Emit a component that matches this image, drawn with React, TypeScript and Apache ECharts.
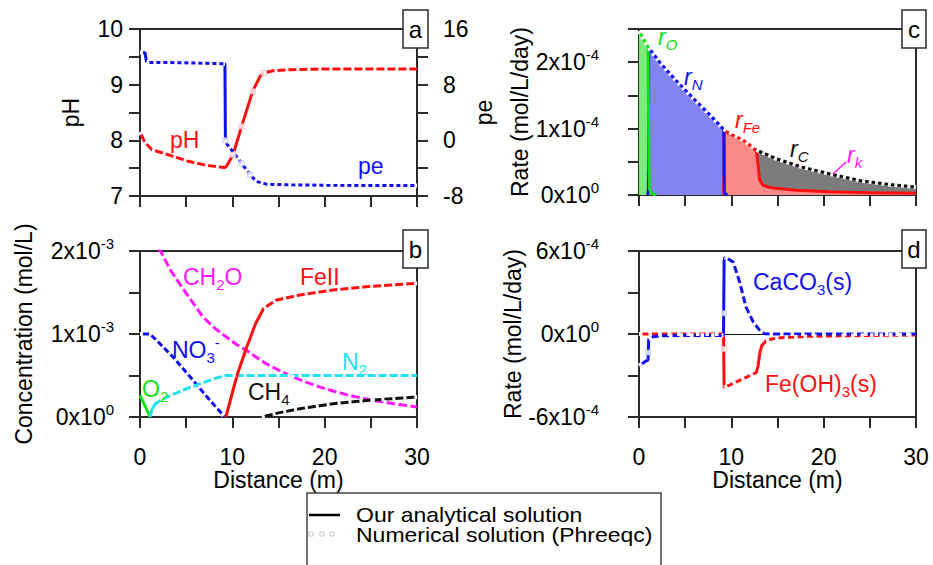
import React, { useEffect, useRef } from 'react';
import * as echarts from 'echarts';

const FONT = '"Liberation Sans", Arial, Helvetica, sans-serif';
const RED = '#ff1010';
const BLUE = '#1010ee';
const GREEN = '#18e018';
const MAGENTA = '#ff18ff';
const CYAN = '#22e2f2';
const BLACK = '#111111';
const AXIS = '#2a2a2a';
const NUM = '#fcf4fb';

// x ticks (m)
const X_TICK_STEP = 5;

// ---------- panel a : pH (left) and pe (right)
const PH_X = [0, 0.5, 1.3, 2.9, 5.1, 7.2, 9.1, 9.3, 9.6, 10.1, 11.0, 12.2, 13.0, 13.4, 14.4, 16, 20, 25, 30];
const PH_Y = [8.15, 7.97, 7.83, 7.75, 7.63, 7.55, 7.51, 7.52, 7.6, 7.75, 8.25, 8.88, 9.15, 9.21, 9.25, 9.27, 9.28, 9.28, 9.28];
const PE_X = [0, 0.55, 0.7, 1.0, 3, 6, 9.1, 9.2, 9.25, 9.4, 10.1, 11.0, 11.9, 12.6, 13.7, 16, 20, 25, 30];
const PE_Y = [12.6, 12.6, 11.3, 11.2, 11.2, 11.1, 11.0, 11.0, 0.0, -0.5, -1.7, -3.3, -4.9, -5.9, -6.3, -6.4, -6.45, -6.5, -6.5];

// ---------- panel b : concentrations (x10^-3 mol/L)
const CH2O_X = [0, 1, 2.27, 3.3, 4.5, 5.7, 6.86, 8.1, 9.4, 10.5, 11.55, 12.6, 13.7, 15.1, 16.6, 18, 19.5, 21, 22.7, 25.3, 27.5, 30];
const CH2O_Y = [2.45, 2.2, 1.99, 1.77, 1.57, 1.38, 1.2, 1.07, 0.96, 0.87, 0.8, 0.72, 0.64, 0.56, 0.48, 0.42, 0.36, 0.31, 0.26, 0.2, 0.16, 0.12];
const NO3_X = [0, 1.08, 2, 3.6, 5.0, 6.0, 7.2, 8.3, 9.2];
const NO3_Y = [1.0, 1.0, 0.9, 0.72, 0.54, 0.41, 0.25, 0.11, 0];
const O2_X = [0, 0.3, 0.6, 0.85, 1.08];
const O2_Y = [0.26, 0.19, 0.12, 0.06, 0];
const N2_X = [1.08, 1.3, 1.6, 2.2, 3.5, 5.0, 6.5, 8.0, 9.3, 12, 16, 20, 25, 30];
const N2_Y = [0, 0.09, 0.15, 0.2, 0.27, 0.34, 0.4, 0.46, 0.5, 0.5, 0.5, 0.5, 0.5, 0.5];
const FE2_X = [9.3, 10.5, 11.55, 12.5, 13.4, 14.8, 17.3, 20.9, 24.5, 30];
const FE2_Y = [0, 0.5, 0.84, 1.12, 1.31, 1.41, 1.47, 1.53, 1.57, 1.61];
const CH4_X = [13.2, 15, 17.3, 20.9, 24.5, 30];
const CH4_Y = [0, 0.05, 0.1, 0.16, 0.2, 0.24];

// ---------- panel c : rates (x10^-4 mol/L/day)
const RK_X = [0, 0.98, 2.25, 4.05, 5.86, 7.66, 9.1, 11.26, 12.7, 14.8, 17.7, 20.6, 23.9, 27.1, 30];
const RK_Y = [2.47, 2.23, 2.0, 1.72, 1.46, 1.21, 1.0, 0.83, 0.68, 0.55, 0.42, 0.32, 0.22, 0.16, 0.12];
const RC_X = [12.6, 12.7, 14.8, 17.7, 20.6, 23.9, 27.1, 30];
const RC_Y = [0.69, 0.68, 0.55, 0.42, 0.32, 0.22, 0.16, 0.12];
const RO_X = [0, 0.5, 0.98, 1.02, 1.08, 1.15, 1.4, 1.9];
const RO_Y = [2.47, 2.35, 2.23, 1.4, 0.4, 0.08, 0.02, 0];
const RN_X = [0.95, 1.02, 1.05, 2.25, 4.05, 5.86, 7.66, 9.1, 9.18, 9.24, 9.4, 9.6];
const RN_Y = [0, 0.1, 2.22, 2.0, 1.72, 1.46, 1.21, 1.0, 0.98, 0.05, 0.01, 0];
const RFE_X = [9.18, 9.24, 10, 11.26, 12.3, 12.7, 12.9, 13.06, 13.4, 14, 14.8, 17, 20.6, 25, 30];
const RFE_Y = [0, 0.97, 0.91, 0.83, 0.72, 0.66, 0.45, 0.23, 0.15, 0.12, 0.1, 0.07, 0.05, 0.035, 0.026];

// ---------- panel d : mineral rates (x10^-4 mol/L/day)
const CAC_X = [0, 0.8, 0.98, 1.05, 1.5, 2.4, 5, 9.15, 9.22, 9.3, 9.6, 10.2, 10.9, 11.6, 12.4, 13.1, 13.6, 15, 20, 30];
const CAC_Y = [-2.3, -1.94, -1.9, -0.36, -0.2, -0.12, -0.1, -0.1, 5.3, 5.55, 5.45, 5.2, 3.75, 1.93, 0.84, 0.24, 0.02, 0, 0, 0];
const FEOH_X = [0, 5, 9.15, 9.22, 12.7, 12.9, 13.1, 13.3, 13.75, 14.8, 18.5, 22, 30];
const FEOH_Y = [0, 0, 0, -3.88, -2.79, -2.3, -1.3, -0.85, -0.49, -0.29, -0.17, -0.12, -0.07];

// numerical (Phreeqc) points visible on steep parts
const NUM_A_PH = [[10.1, 7.74], [11.0, 8.25], [12.2, 8.88], [13.4, 9.21]];
const NUM_A_PE = [[9.24, 0.0], [11.0, -3.3], [11.9, -4.9]];
const NUM_D_CAC = [[0.98, -1.34], [9.22, 1.5]];
const NUM_D_FEOH = [[9.22, -1.09]];

const pairs = (xs: number[], ys: number[]) => xs.map((x, i) => [x, ys[i]]);
const segs = (xs: number[], ys: number[], ranges: number[][]) => {
  const out: any[] = [];
  ranges.forEach((r, k) => {
    if (k > 0) out.push([xs[r[0]], '-']);
    for (let i = r[0]; i <= r[1]; i++) out.push([xs[i], ys[i]]);
  });
  return out;
};

const lineS = (xi: number, yi: number, data: any[], color: string, extra: any = {}) => ({
  type: 'line', xAxisIndex: xi, yAxisIndex: yi, data, showSymbol: false, symbol: 'none',
  silent: true, lineStyle: { color, width: 3 }, itemStyle: { color }, z: 3, ...extra,
});
const numS = (xi: number, yi: number, data: any[], dash: number[]) => ({
  type: 'line', xAxisIndex: xi, yAxisIndex: yi, data, showSymbol: false, symbol: 'none',
  silent: true, lineStyle: { color: NUM, width: 4.2, type: dash }, z: 4,
});
const dotS = (xi: number, yi: number, data: any[], border: string) => ({
  type: 'scatter', xAxisIndex: xi, yAxisIndex: yi, data, symbol: 'rect', symbolSize: 5,
  silent: true, itemStyle: { color: '#ffffff', borderColor: border, borderWidth: 1 }, z: 5,
});

const rich = (c: string) => ({
  m: { fontSize: 23, fontFamily: FONT, fill: c, color: c, lineHeight: 30 },
  i: { fontSize: 23, fontFamily: FONT, fontStyle: 'italic', fill: c, color: c, lineHeight: 30 },
  b: { fontSize: 15, fontFamily: FONT, fill: c, color: c, lineHeight: 12, verticalAlign: 'bottom' },
  ib: { fontSize: 15, fontFamily: FONT, fontStyle: 'italic', fill: c, color: c, lineHeight: 12, verticalAlign: 'bottom' },
  p: { fontSize: 15, fontFamily: FONT, fill: c, color: c, lineHeight: 10, verticalAlign: 'top' },
});

const label = (x: number, y: number, text: string, color: string) => ({
  type: 'text', x, y, z: 100,
  style: {
    text, rich: rich(color), fill: color, fontSize: 23, fontFamily: FONT,
    textAlign: 'left', align: 'left', textVerticalAlign: 'middle', verticalAlign: 'middle',
  },
});

const box = (x: number, y: number, w: number, h: number, t: string) => [
  { type: 'rect', z: 100, shape: { x, y, width: w, height: h }, style: { fill: '#ffffff', stroke: AXIS, lineWidth: 1.5 } },
  {
    type: 'text', z: 101, x: x + w / 2, y: y + h / 2,
    style: { text: t, fill: '#000', fontSize: 24, fontFamily: FONT, textAlign: 'center', align: 'center', textVerticalAlign: 'middle', verticalAlign: 'middle' },
  },
];

const legendText = (x: number, y: number, text: string) => ({
  type: 'text', z: 101, x, y, scaleX: 1.15,
  style: { text, fill: '#000', fontSize: 20, fontFamily: FONT, textAlign: 'left', align: 'left', textVerticalAlign: 'middle', verticalAlign: 'middle' },
});

const isInt = (v: number) => Math.abs(v - Math.round(v)) < 1e-9;
const sciFmt = (exp: number) => (v: number) => {
  if (!isInt(v)) return '';
  const k = Math.round(v);
  return k === 0 ? '{m|0x10}{s|0}' : `{m|${k}x10}{s|${exp}}`;
};
const sciRich = {
  m: { fontSize: 23, fontFamily: FONT, color: '#000', lineHeight: 30 },
  s: { fontSize: 15, fontFamily: FONT, color: '#000', lineHeight: 10, verticalAlign: 'top' },
};

const nameStyle = { fontSize: 23, fontFamily: FONT, color: '#000' };

const xAxisCfg = (gi: number, showLabels: boolean) => ({
  type: 'value', gridIndex: gi, min: 0, max: 30, interval: X_TICK_STEP,
  axisLine: { show: true, onZero: false, lineStyle: { color: AXIS, width: 2 } },
  axisTick: { show: true, length: 11, lineStyle: { color: AXIS, width: 2 } },
  axisLabel: {
    show: showLabels, margin: 28, fontSize: 23, fontFamily: FONT, color: '#000',
    formatter: (v: number) => (Math.round(v) % 10 === 0 ? String(Math.round(v)) : ''),
  },
  splitLine: { show: false },
  name: showLabels ? 'Distance (m)' : '', nameLocation: 'middle', nameGap: 50, nameTextStyle: nameStyle,
});

const yAxisCfg = (gi: number, min: number, max: number, interval: number, extra: any) => ({
  type: 'value', gridIndex: gi, min, max, interval,
  axisLine: { show: true, onZero: false, lineStyle: { color: AXIS, width: 2 } },
  axisTick: { show: true, length: 11, lineStyle: { color: AXIS, width: 2 } },
  splitLine: { show: false },
  nameLocation: 'middle', nameRotate: 90, nameTextStyle: nameStyle,
  ...extra,
});

export default function App() {
  const ref = useRef<HTMLDivElement>(null);
  useEffect(() => {
    if (!ref.current) return;
    const chart = echarts.init(ref.current, undefined, { renderer: 'svg' });
    const option: any = {
      animation: false,
      backgroundColor: '#ffffff',
      grid: [
        { left: 140, top: 29, width: 277, height: 167, show: true, borderColor: AXIS, borderWidth: 2 },
        { left: 140, top: 251, width: 277, height: 166, show: true, borderColor: AXIS, borderWidth: 2 },
        { left: 639, top: 29, width: 277, height: 166, show: true, borderColor: AXIS, borderWidth: 2 },
        { left: 639, top: 251, width: 277, height: 166, show: true, borderColor: AXIS, borderWidth: 2 },
      ],
      xAxis: [
        xAxisCfg(0, false),
        xAxisCfg(1, true),
        xAxisCfg(2, false),
        xAxisCfg(3, true),
        {
          type: 'value', gridIndex: 3, min: 0, max: 30, position: 'top',
          axisLine: { show: true, onZero: true, lineStyle: { color: BLACK, width: 1.2 } },
          axisTick: { show: false }, axisLabel: { show: false }, splitLine: { show: false },
        },
      ],
      yAxis: [
        yAxisCfg(0, 7, 10, 0.5, {
          position: 'left', name: 'pH', nameGap: 58,
          axisLabel: { margin: 17, fontSize: 23, fontFamily: FONT, color: '#000', formatter: (v: number) => (isInt(v) ? String(Math.round(v)) : '') },
        }),
        yAxisCfg(0, -8, 16, 4, {
          position: 'right', name: 'pe', nameGap: 40,
          axisLabel: { margin: 26, fontSize: 23, fontFamily: FONT, color: '#000', formatter: (v: number) => (Math.round(v) % 8 === 0 ? String(Math.round(v)) : '') },
        }),
        yAxisCfg(1, 0, 2, 0.5, {
          position: 'left', name: 'Concentration (mol/L)', nameGap: 105,
          axisLabel: { margin: 26, formatter: sciFmt(-3), rich: sciRich },
        }),
        yAxisCfg(2, 0, 2.5, 0.5, {
          position: 'left', name: 'Rate (mol/L/day)', nameGap: 100,
          axisLabel: { margin: 40, formatter: sciFmt(-4), rich: sciRich },
        }),
        yAxisCfg(3, -6, 6, 3, {
          position: 'left', name: 'Rate (mol/L/day)', nameGap: 104,
          axisLabel: {
            margin: 40, rich: sciRich,
            formatter: (v: number) => {
              const k = Math.round(v);
              if (k === 0) return '{m|0x10}{s|0}';
              return Math.abs(k) === 6 ? `{m|${k}x10}{s|-4}` : '';
            },
          },
        }),
      ],
      series: [
        // ---- panel a
        lineS(0, 0, pairs(PH_X, PH_Y), RED),
        numS(0, 0, segs(PH_X, PH_Y, [[0, 7], [13, 18]]), [3, 8]),
        lineS(0, 1, pairs(PE_X, PE_Y), BLUE),
        numS(0, 1, segs(PE_X, PE_Y, [[0, 1], [2, 7], [8, 18]]), [3, 4]),
        dotS(0, 0, NUM_A_PH, '#f3b8c8'),
        dotS(0, 1, NUM_A_PE, '#b8c0f3'),
        // ---- panel b
        lineS(1, 2, pairs(CH2O_X, CH2O_Y), MAGENTA),
        numS(1, 2, pairs(CH2O_X, CH2O_Y), [3.5, 8.5]),
        lineS(1, 2, pairs(NO3_X, NO3_Y), BLUE),
        numS(1, 2, pairs(NO3_X, NO3_Y), [3, 6]),
        lineS(1, 2, pairs(O2_X, O2_Y), GREEN),
        lineS(1, 2, pairs(N2_X, N2_Y), CYAN),
        numS(1, 2, segs(N2_X, N2_Y, [[3, 13]]), [3, 8]),
        lineS(1, 2, pairs(FE2_X, FE2_Y), RED),
        numS(1, 2, segs(FE2_X, FE2_Y, [[4, 9]]), [3, 8]),
        lineS(1, 2, pairs(CH4_X, CH4_Y), BLACK),
        numS(1, 2, pairs(CH4_X, CH4_Y), [3, 8]),
        // ---- panel c (areas then lines)
        lineS(2, 3, pairs(RC_X, RC_Y), BLACK, { areaStyle: { color: '#7c7c7c', opacity: 1 } }),
        lineS(2, 3, pairs(RFE_X, RFE_Y), RED, { areaStyle: { color: '#f98a8a', opacity: 1 } }),
        lineS(2, 3, pairs(RN_X, RN_Y), BLUE, { areaStyle: { color: '#8383f2', opacity: 1 } }),
        lineS(2, 3, pairs(RO_X, RO_Y), GREEN, { areaStyle: { color: '#7cec7c', opacity: 1 } }),
        numS(2, 3, pairs(RK_X, RK_Y), [3, 3.5]),
        // ---- panel d
        lineS(3, 4, pairs(FEOH_X, FEOH_Y), RED),
        lineS(3, 4, pairs(CAC_X, CAC_Y), BLUE),
        numS(3, 4, segs(CAC_X, CAC_Y, [[0, 2], [3, 7], [9, 19]]), [3.5, 7]),
        numS(3, 4, segs(FEOH_X, FEOH_Y, [[0, 2], [3, 4], [8, 12]]), [3.5, 6]),
        dotS(3, 4, NUM_D_CAC, '#b8c0f3'),
        dotS(3, 4, NUM_D_FEOH, '#f3b8c8'),
      ],
      graphic: {
        elements: [
          ...box(403, 10, 25, 38, 'a'),
          ...box(403, 230, 25, 38, 'b'),
          ...box(902, 10, 24, 38, 'c'),
          ...box(902, 230, 24, 38, 'd'),
          label(170, 140, '{m|pH}', RED),
          label(358, 166, '{m|pe}', BLUE),
          label(183, 277, '{m|CH}{b|2}{m|O}', MAGENTA),
          label(300, 277, '{m|FeII}', RED),
          label(172, 350, '{m|NO}{b|3}{p|-}', BLUE),
          label(342, 362, '{m|N}{b|2}', CYAN),
          label(142, 389, '{m|O}{b|2}', GREEN),
          label(248, 392, '{m|CH}{b|4}', BLACK),
          label(658, 37, '{i|r}{ib|O}', GREEN),
          label(684, 77, '{i|r}{ib|N}', BLUE),
          label(735, 120, '{i|r}{ib|Fe}', RED),
          label(790, 149, '{i|r}{ib|C}', BLACK),
          label(847, 155, '{i|r}{ib|k}', MAGENTA),
          { type: 'line', z: 100, shape: { x1: 846, y1: 162, x2: 833, y2: 174 }, style: { stroke: MAGENTA, lineWidth: 1.5 } },
          label(753, 282, '{m|CaCO}{b|3}{m|(s)}', BLUE),
          label(765, 384, '{m|Fe(OH)}{b|3}{m|(s)}', RED),
          // legend
          { type: 'rect', z: 100, shape: { x: 307, y: 493, width: 354, height: 90 }, style: { fill: '#ffffff', stroke: '#444', lineWidth: 1.5 } },
          { type: 'line', z: 101, shape: { x1: 309, y1: 515, x2: 340, y2: 515 }, style: { stroke: '#000', lineWidth: 2.5 } },
          legendText(356, 515, 'Our analytical solution'),
          { type: 'rect', z: 101, shape: { x: 309, y: 532, width: 4, height: 4 }, style: { fill: '#fff', stroke: '#c4c4c4', lineWidth: 1 } },
          { type: 'rect', z: 101, shape: { x: 320, y: 532, width: 4, height: 4 }, style: { fill: '#fff', stroke: '#c4c4c4', lineWidth: 1 } },
          { type: 'rect', z: 101, shape: { x: 330, y: 532, width: 4, height: 4 }, style: { fill: '#fff', stroke: '#c4c4c4', lineWidth: 1 } },
          legendText(356, 535, 'Numerical solution (Phreeqc)'),
        ],
      },
    };
    chart.setOption(option);
    return () => chart.dispose();
  }, []);
  return <div ref={ref} style={{ position: 'fixed', left: 0, top: 0, width: 933, height: 565, background: '#fff' }} />;
}
